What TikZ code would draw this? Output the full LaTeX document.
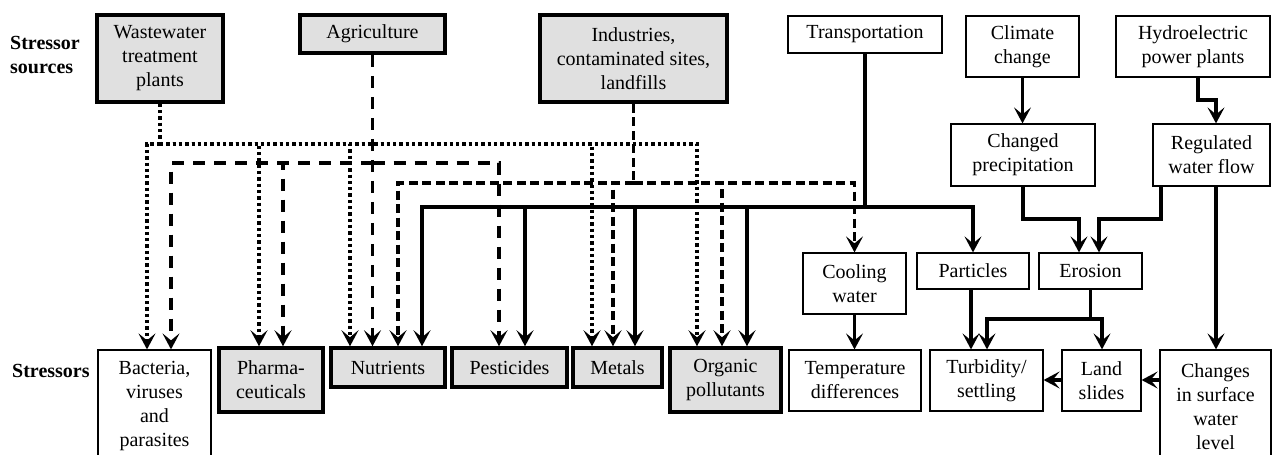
\documentclass[tikz,border=0pt]{standalone}
\usepackage{fontspec}
\setmainfont{Liberation Serif}
\usetikzlibrary{arrows.meta}
\definecolor{boxgray}{RGB}{224,224,224}
\begin{document}
\begin{tikzpicture}[x=1pt,y=-1pt,
  font=\fontsize{20}{24}\selectfont,
  src/.style={draw, line width=3.5pt, fill=boxgray, align=center, inner sep=0pt},
  wbox/.style={draw, line width=1.2pt, fill=white, align=center, inner sep=0pt},
  lbl/.style={font=\fontsize{20}{24}\selectfont\bfseries, align=left, inner sep=0pt, anchor=west},
  conn/.style={line width=3.3pt},
  dotc/.style={conn, dash pattern=on 3.3pt off 3pt},
  dashA/.style={conn, dash pattern=on 12pt off 9pt},
  dashI/.style={conn, dash pattern=on 9pt off 4.5pt},
  tip/.style={-{Stealth[length=16pt,width=17pt,inset=7pt]}},
]
\useasboundingbox (0,0) rectangle (1272,455);

% labels
\node[lbl] (lsrc) at (10,55) {Stressor\\sources};
\node[lbl] (lstr) at (12,371) {Stressors};

% sources
\node[src, minimum width=126pt, minimum height=87pt] (ww) at (160,58.5) {Wastewater\\treatment\\plants};
\node[src, minimum width=145pt, minimum height=38pt] (agri) at (372.5,34) {Agriculture};
\node[src, minimum width=187pt, minimum height=87pt] (ind) at (633.5,58.5) {Industries,\\contaminated sites,\\landfills};
\node[wbox, minimum width=154pt, minimum height=37pt] (trans) at (865,34.5) {Transportation};
\node[wbox, minimum width=113pt, minimum height=61pt] (clim) at (1022.5,46.5) {Climate\\change};
\node[wbox, minimum width=154pt, minimum height=61pt] (hydro) at (1193,46.5) {Hydroelectric\\power plants};
\node[wbox, minimum width=144pt, minimum height=62pt] (prec) at (1023,155) {Changed\\precipitation};
\node[wbox, minimum width=117pt, minimum height=62pt] (regf) at (1211.5,155) {Regulated\\water flow};

% middle
\node[wbox, minimum width=103pt, minimum height=61pt] (cool) at (854.5,283.5) {Cooling\\water};
\node[wbox, minimum width=112pt, minimum height=36pt] (part) at (973,271) {Particles};
\node[wbox, minimum width=103pt, minimum height=36pt] (eros) at (1090.5,271) {Erosion};

% stressors
\node[wbox, minimum width=113pt, minimum height=113pt] (bact) at (154.5,406.5) {Bacteria,\\viruses\\and\\parasites};
\node[src, minimum width=104pt, minimum height=64pt] (phar) at (271,380) {Pharma-\\ceuticals};
\node[src, minimum width=114pt, minimum height=39pt] (nutr) at (388,367.5) {Nutrients};
\node[src, minimum width=115pt, minimum height=39pt] (pest) at (509.5,367.5) {Pesticides};
\node[src, minimum width=89pt, minimum height=39pt] (metl) at (617.5,367.5) {Metals};
\node[src, minimum width=111pt, minimum height=64pt] (orgp) at (725.5,380) {Organic\\pollutants};
\node[wbox, minimum width=132pt, minimum height=61pt] (temp) at (855,380.5) {Temperature\\differences};
\node[wbox, minimum width=113pt, minimum height=61pt] (turb) at (986.5,380.5) {Turbidity/\\settling};
\node[wbox, minimum width=79pt, minimum height=61pt] (land) at (1101.5,380.5) {Land\\slides};
\node[wbox, minimum width=111pt, minimum height=113pt] (chg) at (1215.5,406.5) {Changes\\in surface\\water\\level};

% ---- dotted: wastewater
\coordinate (jw) at (160,144);
\coordinate (d1) at (147,144);
\coordinate (d2) at (259,144);
\coordinate (d3) at (350,144);
\coordinate (d4) at (592,144);
\coordinate (d5) at (697,144);
\draw[dotc] (ww.south) -- (jw);
\draw[dotc,tip] (jw) -| (d1 |- bact.north);
\draw[dotc,tip] (jw) -| (d2 |- phar.north);
\draw[dotc,tip] (jw) -| (d3 |- nutr.north);
\draw[dotc,tip] (jw) -| (d4 |- metl.north);
\draw[dotc,tip] (jw) -| (d5 |- orgp.north);

% ---- dashed: agriculture
\coordinate (ja) at (372.5,163);
\coordinate (a1) at (171,163);
\coordinate (a2) at (283,163);
\coordinate (a3) at (499,163);
\draw[dashA,tip] (agri.south) -- (agri.south |- nutr.north);
\draw[dashA,tip] (ja) -| (a1 |- bact.north);
\draw[dashA,tip] (ja) -| (a2 |- phar.north);
\draw[dashA,tip] (ja) -| (a3 |- pest.north);

% ---- dashed: industries
\coordinate (ji) at (633.5,183);
\coordinate (i1) at (398,183);
\coordinate (i2) at (613,183);
\coordinate (i3) at (722,183);
\draw[dashI] (ind.south) -- (ji);
\draw[dashI,tip] (ji) -| (i1 |- nutr.north);
\draw[dashI,tip] (ji) -| (i2 |- metl.north);
\draw[dashI,tip] (ji) -| (i3 |- orgp.north);
\draw[dashI,tip] (ji) -| (cool.north);

% ---- solid: transportation
\coordinate (jt) at (865,207);
\coordinate (t1) at (422,207);
\coordinate (t2) at (525,207);
\coordinate (t3) at (635,207);
\coordinate (t4) at (747,207);
\draw[conn] (trans.south) -- (jt);
\draw[conn,tip] (jt) -| (t1 |- nutr.north);
\draw[conn,tip] (jt) -| (t2 |- pest.north);
\draw[conn,tip] (jt) -| (t3 |- metl.north);
\draw[conn,tip] (jt) -| (t4 |- orgp.north);
\draw[conn,tip] (jt) -| (part.north);

% ---- right side
\draw[conn,tip] (clim.south) -- (clim.south |- prec.north);
\coordinate (h1) at (1198,100);
\coordinate (h2) at (1216,100);
\draw[conn,tip] (h1 |- hydro.south) -- (h1) -- (h2) -- (h2 |- regf.north);
\coordinate (p1) at (1079,219);
\draw[conn,tip] (prec.south) |- (p1) -- (p1 |- eros.north);
\coordinate (r0) at (1161,219);
\coordinate (r1) at (1099,219);
\draw[conn,tip] (r0 |- regf.south) -- (r0) -- (r1) -- (r1 |- eros.north);
\draw[conn,tip] (h2 |- regf.south) -- (h2 |- chg.north);
\draw[conn,tip] (cool.south) -- (cool.south |- temp.north);
\coordinate (pc) at (971,300);
\draw[conn,tip] (pc |- part.south) -- (pc |- turb.north);
\coordinate (je) at (1090.5,319);
\coordinate (e1) at (987,319);
\coordinate (e2) at (1102,319);
\draw[conn] (eros.south) -- (je);
\draw[conn,tip] (je) -| (e1 |- turb.north);
\draw[conn,tip] (je) -| (e2 |- land.north);
\coordinate (ly) at (1150,380);
\draw[conn,tip] (land.west |- ly) -- (turb.east |- ly);
\draw[conn,tip] (chg.west |- ly) -- (land.east |- ly);
\end{tikzpicture}
\end{document}
